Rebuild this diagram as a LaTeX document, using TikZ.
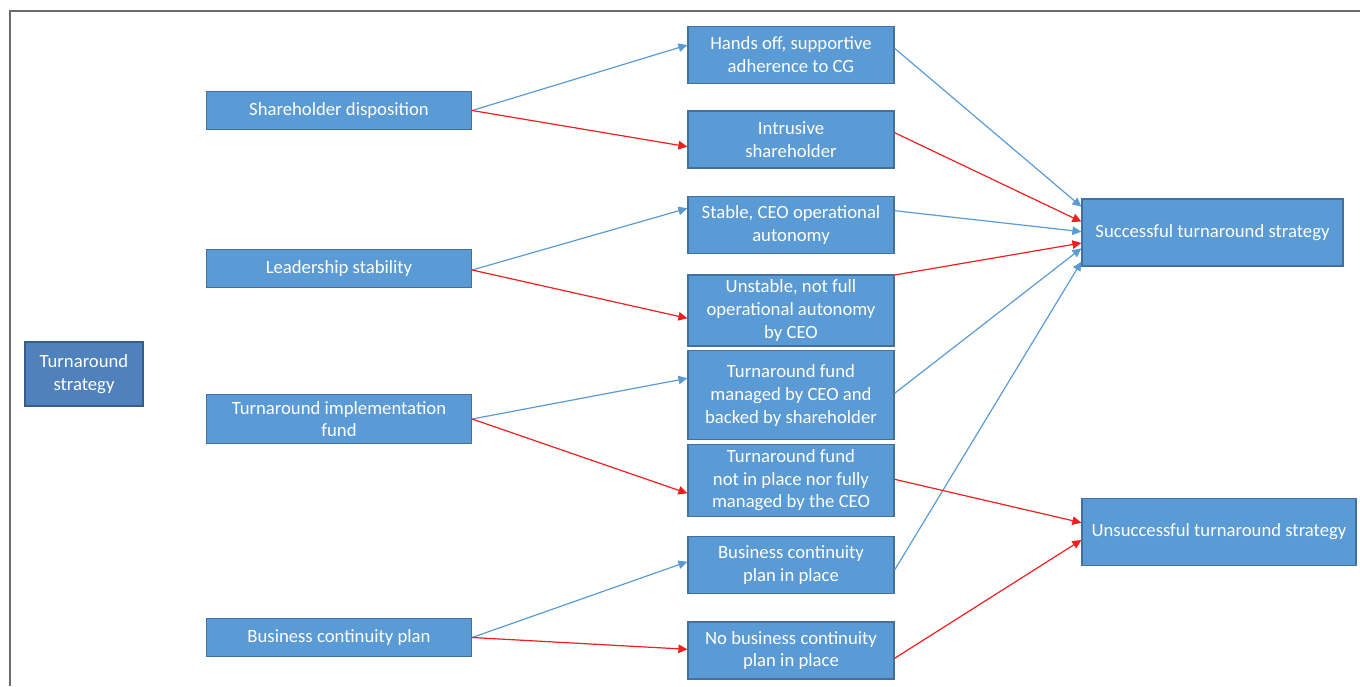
\documentclass[tikz,border=0pt]{standalone}
\usepackage{fontspec}
\setmainfont{Carlito}
\usetikzlibrary{arrows.meta}
\definecolor{boxfill}{HTML}{5B9BD5}
\definecolor{boxline}{HTML}{41719C}
\definecolor{darkfill}{HTML}{4F81BD}
\definecolor{darkline}{HTML}{385D8A}
\definecolor{bluearrow}{HTML}{5B9BD5}
\definecolor{redarrow}{HTML}{F01E1E}
\definecolor{framegray}{HTML}{6B6B6B}
\tikzset{
  box/.style={draw=boxline, fill=boxfill, line width=1.2pt, text=white, align=center,
    inner sep=0pt, font=\fontsize{18.7}{22.8}\selectfont},
  darkbox/.style={box, draw=darkline, fill=darkfill},
  posarrow/.style={draw=bluearrow, line width=1.2pt, -{Triangle[length=9pt,width=8.5pt]}},
  negarrow/.style={draw=redarrow, line width=1.2pt, -{Triangle[length=9pt,width=8.5pt]}},
}
\begin{document}
\begin{tikzpicture}[x=1pt,y=-1pt]
\useasboundingbox (0,0) rectangle (1360,686);
\draw[framegray, line width=1.5pt] (10,686) -- (10,11) -- (1360,11);

\node[darkbox, minimum width=118pt, minimum height=64pt] (ts) at (84,374) {Turnaround\\strategy};

\node[box, minimum width=265pt, minimum height=38pt] (sd) at (339,110.5) {Shareholder disposition};
\node[box, minimum width=265pt, minimum height=38pt] (ls) at (339,268.5) {Leadership stability};
\node[box, minimum width=265pt, minimum height=49pt] (tif) at (339,419) {Turnaround implementation\\fund};
\node[box, minimum width=265pt, minimum height=38pt] (bcp) at (339,637.5) {Business continuity plan};

\node[box, minimum width=206pt, minimum height=57pt] (hands) at (791,54.7) {Hands off, supportive\\adherence to CG};
\node[box, minimum width=206pt, minimum height=57pt] (intr) at (791,139.5) {Intrusive\\shareholder};
\node[box, minimum width=206pt, minimum height=57pt] (stable) at (791,224.7) {Stable, CEO operational\\autonomy};
\node[box, minimum width=206pt, minimum height=71pt] (unstable) at (791,310.5) {Unstable, not full\\operational autonomy\\by CEO};
\node[box, minimum width=206pt, minimum height=89pt] (managed) at (791,395.3) {Turnaround fund\\managed by CEO and\\backed by shareholder};
\node[box, minimum width=206pt, minimum height=72pt] (notin) at (791,480.3) {Turnaround fund\\not in place nor fully\\managed by the CEO};
\node[box, minimum width=206pt, minimum height=57pt] (inplace) at (791,565.3) {Business continuity\\plan in place};
\node[box, minimum width=206pt, minimum height=57pt] (nobcp) at (791,650.5) {No business continuity\\plan in place};

\node[box, minimum width=261pt, minimum height=67pt] (succ) at (1212.5,232.5) {Successful turnaround strategy};
\node[box, minimum width=274pt, minimum height=67pt] (unsucc) at (1219,531.7) {Unsuccessful turnaround strategy};

% left fan
\draw[posarrow] (sd.east) -- ([yshift=9.7pt]hands.west);
\draw[negarrow] (sd.east) -- ([yshift=-7.2pt]intr.west);
\draw[posarrow] ([yshift=-1.5pt]ls.east) -- ([yshift=16.4pt]stable.west);
\draw[negarrow] ([yshift=-1.5pt]ls.east) -- ([yshift=-7.8pt]unstable.west);
\draw[posarrow] (tif.east) -- ([yshift=17pt]managed.west);
\draw[negarrow] (tif.east) -- ([yshift=-13pt]notin.west);
\draw[posarrow] (bcp.east) -- ([yshift=3.6pt]inplace.west);
\draw[negarrow] (bcp.east) -- ([yshift=1.2pt]nobcp.west);

% right fan
\draw[posarrow] ([yshift=6.4pt]hands.east) -- ([yshift=25.8pt]succ.west);
\draw[negarrow] ([yshift=6.8pt]intr.east) -- ([yshift=10.8pt]succ.west);
\draw[posarrow] ([yshift=14pt]stable.east) -- ([yshift=0.8pt]succ.west);
\draw[negarrow] ([yshift=35.5pt]unstable.east) -- ([yshift=-10.5pt]succ.west);
\draw[posarrow] ([yshift=2pt]managed.east) -- ([yshift=-15.8pt]succ.west);
\draw[posarrow] ([yshift=-4.7pt]inplace.east) -- ([yshift=-29.2pt]succ.west);
\draw[negarrow] ([yshift=1pt]notin.east) -- ([yshift=9pt]unsucc.west);
\draw[negarrow] ([yshift=-7.8pt]nobcp.east) -- ([yshift=-8.3pt]unsucc.west);
\end{tikzpicture}
\end{document}
